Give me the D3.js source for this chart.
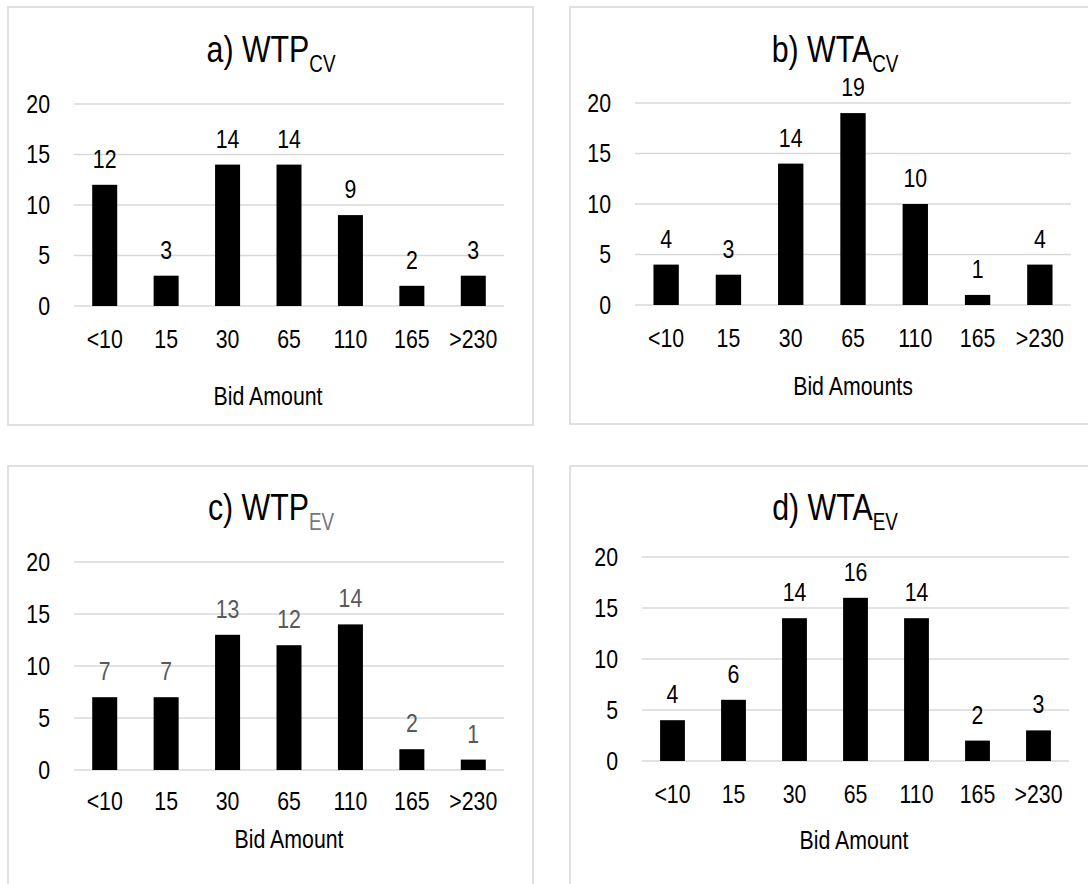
<!DOCTYPE html>
<html>
<head>
<meta charset="utf-8">
<script src="https://cdn.jsdelivr.net/npm/d3@7"></script>
<style>
  html, body { margin: 0; padding: 0; background: #ffffff; }
  svg { display: block; }
  text { font-family: "Liberation Sans", Arial, sans-serif; }
</style>
</head>
<body>
<svg id="chart" width="1088" height="884"></svg>
<script>
// ---- data ----
const categories = ["<10", "15", "30", "65", "110", "165", ">230"];
const wtpCV = [12, 3, 14, 14, 9, 2, 3];
const wtaCV = [4, 3, 14, 19, 10, 1, 4];
const wtpEV = [7, 7, 13, 12, 14, 2, 1];
const wtaEV = [4, 6, 14, 16, 14, 2, 3];
const yTicks = [0, 5, 10, 15, 20];
const panelLabels = ["a) WTP", "b) WTA", "c) WTP", "d) WTA"];
const panelSubs = ["CV", "CV", "EV", "EV"];
const axisTitles = ["Bid Amount", "Bid Amounts", "Bid Amount", "Bid Amount"];
const panelSeries = [wtpCV, wtaCV, wtpEV, wtaEV];

// ---- layout (positions/styles only) ----
const layout = [
  { box: [8, 7, 525, 418],  plot: [74, 504, 306, 104], titleX: 271, titleY: 62,  xlabY: 348, axTitleX: 268, axTitleY: 405, labelColor: "#000", subColor: "#000" },
  { box: [570, 7, 527, 417], plot: [635, 1071, 305, 103], titleX: 835, titleY: 62,  xlabY: 347, axTitleX: 853, axTitleY: 395, labelColor: "#000", subColor: "#000" },
  { box: [8, 466, 525, 430], plot: [74, 504, 770, 562], titleX: 271, titleY: 520, xlabY: 810, axTitleX: 289, axTitleY: 848, labelColor: "#595959", subColor: "#767676" },
  { box: [570, 466, 527, 430], plot: [642, 1069, 761, 557], titleX: 835, titleY: 520, xlabY: 803, axTitleX: 854, axTitleY: 849, labelColor: "#000", subColor: "#000" }
];
const SX = 0.82; // horizontal condensing to mimic a narrow face

const svg = d3.select("#chart");
svg.append("rect").attr("width", 1088).attr("height", 884).attr("fill", "#fff");

panelSeries.forEach((values, i) => {
  const L = layout[i];
  const g = svg.append("g");

  // panel border
  g.append("rect")
    .attr("x", L.box[0]).attr("y", L.box[1])
    .attr("width", L.box[2]).attr("height", L.box[3])
    .attr("fill", "none").attr("stroke", "#d9d9d9").attr("stroke-width", 1.6);

  const [x0, x1, y0, y1] = L.plot;
  const x = d3.scaleBand().domain(categories).range([x0, x1])
    .paddingInner(0.593).paddingOuter(0.2965);
  const y = d3.scaleLinear().domain([0, 20]).range([y0, y1]);

  // gridlines
  g.append("g").selectAll("line").data(yTicks).join("line")
    .attr("x1", x0).attr("x2", x1)
    .attr("y1", d => y(d)).attr("y2", d => y(d))
    .attr("stroke", "#d9d9d9").attr("stroke-width", 1.3);

  // y axis labels
  const yAxis = g.append("g").attr("transform", `translate(${x0 - 24},0)`)
    .call(d3.axisLeft(y).tickValues(yTicks).tickSize(0).tickPadding(0));
  yAxis.select(".domain").remove();
  yAxis.selectAll("text").attr("font-size", 26).attr("fill", "#000")
    .attr("x", 0).attr("transform", `scale(${SX},1)`)
    .attr("font-family", "'Liberation Sans', Arial, sans-serif");

  // x axis labels
  const xAxis = g.append("g").attr("transform", `translate(0,${L.xlabY})`)
    .call(d3.axisBottom(x).tickSize(0).tickPadding(0));
  xAxis.select(".domain").remove();
  xAxis.selectAll("text").attr("font-size", 26).attr("fill", "#000")
    .attr("dy", 0).attr("y", 0).attr("transform", `scale(${SX},1)`)
    .attr("font-family", "'Liberation Sans', Arial, sans-serif");

  // bars
  g.append("g").selectAll("rect").data(values).join("rect")
    .attr("x", (d, j) => x(categories[j]))
    .attr("width", x.bandwidth())
    .attr("y", d => y(d))
    .attr("height", d => y(0) - y(d))
    .attr("fill", "#000");

  // data labels
  g.append("g").selectAll("text").data(values).join("text")
    .attr("transform", (d, j) => `translate(${x(categories[j]) + x.bandwidth() / 2},${y(d) - 17}) scale(${SX},1)`)
    .attr("text-anchor", "middle")
    .attr("font-size", 26)
    .attr("fill", L.labelColor)
    .text(d => d);

  // title
  const t = g.append("text")
    .attr("transform", `translate(${L.titleX},${L.titleY}) scale(${SX},1)`)
    .attr("text-anchor", "middle")
    .attr("font-size", 37).attr("fill", "#000");
  t.append("tspan").text(panelLabels[i]);
  t.append("tspan").attr("font-size", 23).attr("dy", 10).attr("fill", L.subColor).text(panelSubs[i]);

  // axis title
  g.append("text")
    .attr("transform", `translate(${L.axTitleX},${L.axTitleY}) scale(${SX},1)`)
    .attr("text-anchor", "middle")
    .attr("font-size", 26).attr("fill", "#000")
    .text(axisTitles[i]);
});
</script>
</body>
</html>
